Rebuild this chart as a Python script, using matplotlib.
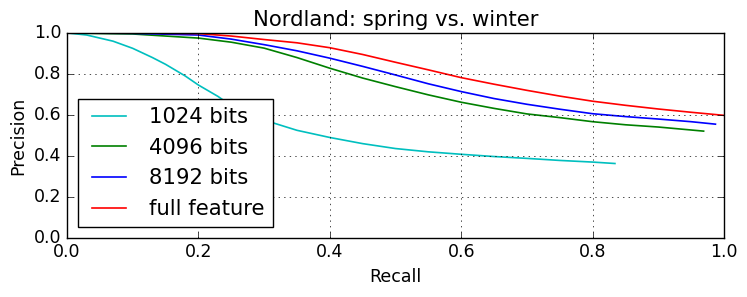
import matplotlib
matplotlib.use("Agg")
import matplotlib.pyplot as plt

plt.style.use('classic')

labels = ["1024 bits", "4096 bits", "8192 bits", "full feature"]
colors = ["c", "g", "b", "r"]

recall_1024 = [0, 0.03, 0.05, 0.07, 0.1, 0.13, 0.15, 0.18, 0.2, 0.23, 0.25, 0.28, 0.3, 0.35,
               0.4, 0.45, 0.5, 0.55, 0.6, 0.65, 0.7, 0.75, 0.8, 0.834]
prec_1024 = [1.0, 0.99, 0.975, 0.96, 0.925, 0.88, 0.847, 0.79, 0.746, 0.69, 0.645, 0.60, 0.575,
             0.525, 0.49, 0.46, 0.436, 0.42, 0.408, 0.397, 0.388, 0.378, 0.37, 0.363]

recall_4096 = [0, 0.1, 0.2, 0.25, 0.3, 0.35, 0.4, 0.45, 0.5, 0.55, 0.6, 0.65, 0.7, 0.75,
               0.8, 0.85, 0.9, 0.969]
prec_4096 = [1.0, 0.995, 0.975, 0.955, 0.926, 0.88, 0.828, 0.78, 0.738, 0.698, 0.662, 0.632,
             0.605, 0.587, 0.567, 0.552, 0.541, 0.521]

recall_8192 = [0, 0.1, 0.2, 0.25, 0.3, 0.35, 0.4, 0.45, 0.5, 0.55, 0.6, 0.65, 0.7, 0.75,
               0.8, 0.85, 0.9, 0.95, 0.987]
prec_8192 = [1.0, 0.998, 0.99, 0.97, 0.943, 0.913, 0.877, 0.837, 0.795, 0.752, 0.714, 0.68,
             0.652, 0.628, 0.606, 0.592, 0.58, 0.567, 0.555]

recall_full = [0, 0.1, 0.2, 0.25, 0.3, 0.35, 0.4, 0.45, 0.5, 0.55, 0.6, 0.65, 0.7, 0.75,
               0.8, 0.85, 0.9, 0.95, 1.0]
prec_full = [1.0, 1.0, 0.997, 0.985, 0.968, 0.952, 0.928, 0.895, 0.857, 0.82, 0.782, 0.75,
             0.72, 0.692, 0.667, 0.647, 0.629, 0.613, 0.598]

recalls = [recall_1024, recall_4096, recall_8192, recall_full]
precs = [prec_1024, prec_4096, prec_8192, prec_full]

fig = plt.figure(figsize=(7.47, 2.97), dpi=100, facecolor='white')
ax = fig.add_axes([0.0897, 0.199, 0.8795, 0.690])
for r, p, c, l in zip(recalls, precs, colors, labels):
    ax.plot(r, p, color=c, label=l, linewidth=1.2)
ax.set_xlim(0, 1.0)
ax.set_ylim(0, 1.0)
ax.set_xticks([0, 0.2, 0.4, 0.6, 0.8, 1.0])
ax.set_yticks([0, 0.2, 0.4, 0.6, 0.8, 1.0])
ax.tick_params(labelsize=12.5)
ax.grid(True)
ax.set_xlabel("Recall", fontsize=12.5)
ax.set_ylabel("Precision", fontsize=12.5)
ax.set_title("Nordland: spring vs. winter", fontsize=15.2)
ax.legend(loc='lower left', fontsize=15.2, handlelength=2.2)
fig.savefig("out.png", dpi=100, facecolor='white')
